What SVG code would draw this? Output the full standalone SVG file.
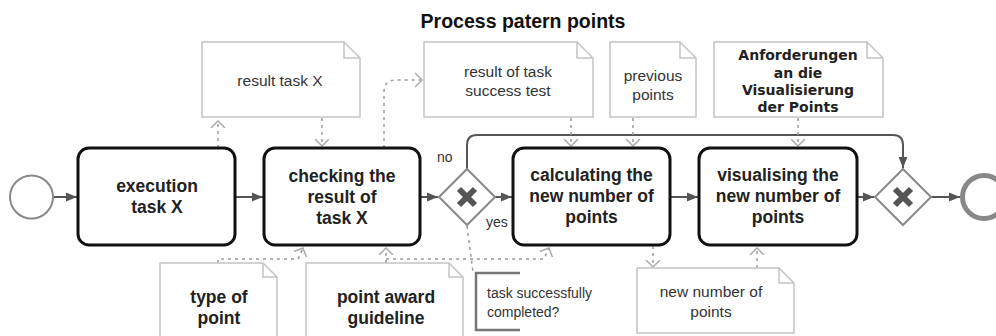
<svg xmlns="http://www.w3.org/2000/svg" width="996" height="336" viewBox="0 0 996 336">
<style>
.task{fill:#fff;stroke:#111;stroke-width:3}
.tt{font-family:"Liberation Sans",Arial,sans-serif;font-weight:bold;font-size:17.5px;fill:#222;text-anchor:middle}
.data{fill:#fff;stroke:#c4c4c4;stroke-width:1.5}
.dt{font-family:"Liberation Sans",Arial,sans-serif;font-size:15.5px;fill:#333;text-anchor:middle}
.db{font-family:"Liberation Sans",Arial,sans-serif;font-weight:bold;font-size:17.5px;fill:#222;text-anchor:middle}
.dv{font-family:"DejaVu Sans",Verdana,sans-serif;font-weight:bold;font-size:14px;fill:#222;text-anchor:middle}
.seq{fill:none;stroke:#555;stroke-width:2;marker-end:url(#ah)}
.assoc{fill:none;stroke:#9a9a9a;stroke-width:1.5;stroke-dasharray:3 4}
.gw{fill:#fff;stroke:#888;stroke-width:2}
.gx{stroke:#555;stroke-width:6}
.lbl{font-family:"Liberation Sans",Arial,sans-serif;font-size:14px;fill:#333}
</style>
<defs>
<marker id="ah" viewBox="0 0 10 10" refX="10" refY="5" markerWidth="11" markerHeight="11" markerUnits="userSpaceOnUse" orient="auto">
<path d="M0,1 L10,5 L0,9 Z" fill="#555"/>
</marker>
<marker id="oa" viewBox="0 0 8 16" refX="7" refY="8" markerWidth="8" markerHeight="16" markerUnits="userSpaceOnUse" orient="auto">
<path d="M0,1 L7,8 L0,15" fill="none" stroke="#aaa" stroke-width="1.5"/>
</marker>
</defs>
<rect width="996" height="336" fill="#fff"/>
<text x="523" y="28" font-family="Liberation Sans,Arial,sans-serif" font-weight="bold" font-size="19.5" fill="#111" text-anchor="middle">Process patern points</text>

<g id="connectors">
<path class="seq" d="M53,197 H77"/>
<path class="seq" d="M235,197 H263"/>
<path class="seq" d="M420,197 H438"/>
<path class="seq" d="M495,197 H512"/>
<path class="seq" d="M670,197 H698"/>
<path class="seq" d="M857,197 H874"/>
<path class="seq" d="M931,197 H960"/>
<path class="seq" d="M467,169 V145 Q467,135 477,135 H893 Q903,135 903,145 V168"/>
<path class="assoc" d="M218,148 V121" marker-end="url(#oa)"/>
<path class="assoc" d="M322,118 V146" marker-end="url(#oa)"/>
<path class="assoc" d="M384,148 V92 Q384,80 396,80 H422" marker-end="url(#oa)"/>
<path class="assoc" d="M571,118 V146" marker-end="url(#oa)"/>
<path class="assoc" d="M633,118 V146" marker-end="url(#oa)"/>
<path class="assoc" d="M798,118 V146" marker-end="url(#oa)"/>
<path class="assoc" d="M218,263 V259 H298 L303,248" marker-end="url(#oa)"/>
<path class="assoc" d="M386,263 V248" marker-end="url(#oa)"/>
<path class="assoc" d="M386,259 H544 L549,248" marker-end="url(#oa)"/>
<path class="assoc" d="M653,246 V267" marker-end="url(#oa)"/>
<path class="assoc" d="M757,268 V248" marker-end="url(#oa)"/>
<path class="assoc" d="M467,226 L473,272"/>
</g>

<g id="start"><circle cx="31.5" cy="197" r="21.5" fill="#fff" stroke="#888" stroke-width="2"/></g>

<g id="task1">
<rect class="task" x="78" y="148" width="157" height="97" rx="11"/>
<text class="tt" x="157" y="192">execution</text>
<text class="tt" x="157" y="213">task X</text>
</g>
<g id="task2">
<rect class="task" x="264" y="148" width="156" height="97" rx="11"/>
<text class="tt" x="342" y="182">checking the</text>
<text class="tt" x="342" y="203">result of</text>
<text class="tt" x="342" y="224">task X</text>
</g>
<g id="gateway1">
<polygon class="gw" points="467,169 495,197 467,225 439,197"/>
<path class="gx" d="M459,189 L475,205 M475,189 L459,205"/>
<text class="lbl" x="437" y="162">no</text>
<text class="lbl" x="486" y="227">yes</text>
</g>
<g id="task3">
<rect class="task" x="513" y="148" width="157" height="97" rx="11"/>
<text class="tt" x="591.5" y="181">calculating the</text>
<text class="tt" x="591.5" y="202">new number of</text>
<text class="tt" x="591.5" y="223">points</text>
</g>
<g id="task4">
<rect class="task" x="699" y="148" width="158" height="97" rx="11"/>
<text class="tt" x="778" y="181">visualising the</text>
<text class="tt" x="778" y="202">new number of</text>
<text class="tt" x="778" y="223">points</text>
</g>
<g id="gateway2">
<polygon class="gw" points="903,169 931,197 903,225 875,197"/>
<path class="gx" d="M895,189 L911,205 M911,189 L895,205"/>
</g>
<g id="end"><circle cx="984" cy="197" r="21.5" fill="#fff" stroke="#888" stroke-width="5"/></g>

<g id="data-result-task-x">
<path class="data" d="M202,42 H344 L360,58 V117 H202 Z M344,42 V58 H360"/>
<text class="dt" x="280" y="86">result task X</text>
</g>
<g id="data-result-success-test">
<path class="data" d="M424,42 H577 L593,58 V117 H424 Z M577,42 V58 H593"/>
<text class="dt" x="508" y="77">result of task</text>
<text class="dt" x="508" y="96">success test</text>
</g>
<g id="data-previous-points">
<path class="data" d="M610,42 H680 L696,58 V117 H610 Z M680,42 V58 H696"/>
<text class="dt" x="653" y="81">previous</text>
<text class="dt" x="653" y="100">points</text>
</g>
<g id="data-anforderungen">
<path class="data" d="M714,42 H867 L883,58 V117 H714 Z M867,42 V58 H883"/>
<text class="dv" x="798" y="60">Anforderungen</text>
<text class="dv" x="798" y="78">an die</text>
<text class="dv" x="798" y="95">Visualisierung</text>
<text class="dv" x="798" y="112">der Points</text>
</g>
<g id="data-type-of-point">
<path class="data" d="M160,263 H263 L277,277 V350 H160 Z M263,263 V277 H277"/>
<text class="db" x="219" y="303">type of</text>
<text class="db" x="219" y="324">point</text>
</g>
<g id="data-point-award">
<path class="data" d="M306,263 H449 L463,277 V350 H306 Z M449,263 V277 H463"/>
<text class="db" x="386" y="303">point award</text>
<text class="db" x="386" y="324">guideline</text>
</g>
<g id="data-new-number">
<path class="data" d="M637,268 H779 L794,283 V333 H637 Z M779,268 V283 H794"/>
<text class="dt" x="711" y="297">new number of</text>
<text class="dt" x="711" y="317">points</text>
</g>
<g id="annotation">
<path d="M520,273 H476 V330 H520" fill="none" stroke="#777" stroke-width="2.5"/>
<text class="lbl" x="487" y="298" font-size="15.5">task successfully</text>
<text class="lbl" x="487" y="317" font-size="15.5">completed?</text>
</g>
</svg>
